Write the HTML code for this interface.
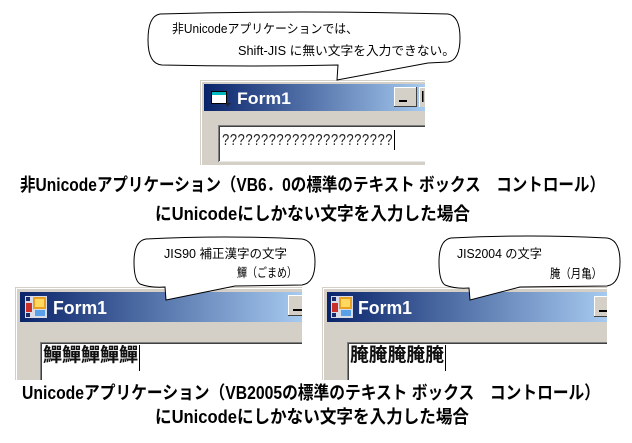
<!DOCTYPE html>
<html>
<head>
<meta charset="utf-8">
<style>
html,body{margin:0;padding:0;background:#fff;}
svg{display:block;}
.jp{font-family:"Liberation Sans","Noto Sans CJK JP",sans-serif;}
</style>
</head>
<body>
<svg width="632" height="443" viewBox="0 0 632 443" xmlns="http://www.w3.org/2000/svg">
<defs>
<linearGradient id="tb" x1="0" y1="0" x2="1" y2="0">
<stop offset="0" stop-color="#0a246a"/>
<stop offset="1" stop-color="#a6caf0"/>
</linearGradient>
</defs>
<rect x="0" y="0" width="632" height="443" fill="#fff"/>

<!-- ===== Top screenshot ===== -->
<rect x="200" y="80" width="225" height="85" fill="#d4d0c8"/>
<line x1="201.5" y1="81" x2="201.5" y2="165" stroke="#fff"/>
<line x1="201" y1="81.5" x2="425" y2="81.5" stroke="#fff"/>
<rect x="204" y="84" width="221" height="27" fill="url(#tb)"/>
<!-- icon -->
<rect x="211.5" y="91.5" width="15" height="12" fill="#fff" stroke="#000"/>
<rect x="212" y="92" width="14" height="3" fill="#00b8c0"/>
<polygon points="226,103 231,103 227,107" fill="#222"/>
<text x="237" y="104" font-family="Liberation Sans, sans-serif" font-weight="bold" font-size="17" fill="#fff" textLength="54" lengthAdjust="spacingAndGlyphs">Form1</text>
<!-- buttons -->
<rect x="394" y="87" width="23" height="20" fill="#d4d0c8"/>
<line x1="394.5" y1="87" x2="394.5" y2="107" stroke="#fff"/>
<line x1="394" y1="87.5" x2="417" y2="87.5" stroke="#fff"/>
<line x1="416.5" y1="87" x2="416.5" y2="107" stroke="#404040"/>
<line x1="394" y1="106.5" x2="417" y2="106.5" stroke="#404040"/>
<rect x="399" y="100" width="8" height="2" fill="#000"/>
<rect x="419" y="87" width="6" height="20" fill="#d4d0c8"/>
<line x1="419.5" y1="87" x2="419.5" y2="107" stroke="#fff"/>
<line x1="419" y1="87.5" x2="425" y2="87.5" stroke="#fff"/>
<rect x="422" y="91" width="1.5" height="11" fill="#000"/>
<!-- textbox -->
<rect x="218" y="125" width="207" height="37" fill="#fff"/>
<line x1="218" y1="125.5" x2="425" y2="125.5" stroke="#808080"/>
<line x1="219" y1="126.5" x2="425" y2="126.5" stroke="#404040"/>
<line x1="218.5" y1="125" x2="218.5" y2="162" stroke="#808080"/>
<line x1="219.5" y1="126" x2="219.5" y2="161" stroke="#404040"/>
<line x1="219" y1="161.5" x2="425" y2="161.5" stroke="#e8e8e8"/>
<text x="222" y="145" font-family="Liberation Mono, monospace" font-size="17" fill="#222" textLength="171" lengthAdjust="spacingAndGlyphs">??????????????????????</text>
<line x1="394.5" y1="130" x2="394.5" y2="150" stroke="#000"/>

<!-- ===== Bottom-left screenshot ===== -->
<rect x="15" y="287" width="287" height="93" fill="#d4d0c8"/>
<line x1="16.5" y1="288" x2="16.5" y2="380" stroke="#fff"/>
<line x1="16" y1="288.5" x2="302" y2="288.5" stroke="#fff"/>
<rect x="20" y="292" width="282" height="30" fill="url(#tb)"/>
<rect x="25" y="296" width="22" height="22" fill="#d8dce8"/>
<rect x="26" y="297" width="4" height="4" fill="#1a2a6a"/>
<rect x="31" y="297" width="0" height="4" fill="#1a2a6a"/>
<rect x="26" y="303" width="6" height="9" fill="#c8302a"/>
<rect x="33" y="297" width="13" height="12" fill="#e8a020"/>
<rect x="35" y="299" width="9" height="8" fill="#ffd860"/>
<rect x="35" y="310" width="10" height="6" fill="#5aa0e8"/>
<rect x="26" y="313" width="4" height="4" fill="#1a2a6a"/>
<text x="53" y="314" font-family="Liberation Sans, sans-serif" font-weight="bold" font-size="18" fill="#fff" textLength="54" lengthAdjust="spacingAndGlyphs">Form1</text>
<rect x="288" y="295" width="14" height="21" fill="#d4d0c8"/>
<line x1="288.5" y1="295" x2="288.5" y2="316" stroke="#fff"/>
<line x1="288" y1="295.5" x2="302" y2="295.5" stroke="#fff"/>
<line x1="288" y1="315.5" x2="302" y2="315.5" stroke="#404040"/>
<rect x="293" y="309" width="9" height="2" fill="#000"/>
<rect x="40" y="342" width="262" height="38" fill="#fff"/>
<line x1="40" y1="342.5" x2="302" y2="342.5" stroke="#808080"/>
<line x1="41" y1="343.5" x2="302" y2="343.5" stroke="#404040"/>
<line x1="40.5" y1="342" x2="40.5" y2="380" stroke="#808080"/>
<line x1="41.5" y1="343" x2="41.5" y2="380" stroke="#404040"/>
<text x="43" y="361" class="jp" font-weight="bold" font-size="19" fill="#111" textLength="95" lengthAdjust="spacingAndGlyphs">鱓鱓鱓鱓鱓</text>
<line x1="139.5" y1="345" x2="139.5" y2="371" stroke="#000"/>

<!-- ===== Bottom-right screenshot ===== -->
<rect x="322" y="287" width="285" height="93" fill="#d4d0c8"/>
<line x1="323.5" y1="288" x2="323.5" y2="380" stroke="#fff"/>
<line x1="323" y1="288.5" x2="607" y2="288.5" stroke="#fff"/>
<rect x="327" y="292" width="280" height="30" fill="url(#tb)"/>
<rect x="331" y="296" width="22" height="22" fill="#d8dce8"/>
<rect x="332" y="297" width="4" height="4" fill="#1a2a6a"/>
<rect x="332" y="303" width="6" height="9" fill="#c8302a"/>
<rect x="339" y="297" width="13" height="12" fill="#e8a020"/>
<rect x="341" y="299" width="9" height="8" fill="#ffd860"/>
<rect x="341" y="310" width="10" height="6" fill="#5aa0e8"/>
<rect x="332" y="313" width="4" height="4" fill="#1a2a6a"/>
<text x="358" y="314" font-family="Liberation Sans, sans-serif" font-weight="bold" font-size="18" fill="#fff" textLength="54" lengthAdjust="spacingAndGlyphs">Form1</text>
<rect x="594" y="296" width="13" height="21" fill="#d4d0c8"/>
<line x1="594.5" y1="296" x2="594.5" y2="317" stroke="#fff"/>
<line x1="594" y1="296.5" x2="607" y2="296.5" stroke="#fff"/>
<line x1="594" y1="316.5" x2="607" y2="316.5" stroke="#404040"/>
<rect x="599" y="310" width="8" height="2" fill="#000"/>
<rect x="347" y="342" width="260" height="38" fill="#fff"/>
<line x1="347" y1="342.5" x2="607" y2="342.5" stroke="#808080"/>
<line x1="348" y1="343.5" x2="607" y2="343.5" stroke="#404040"/>
<line x1="347.5" y1="342" x2="347.5" y2="380" stroke="#808080"/>
<line x1="348.5" y1="343" x2="348.5" y2="380" stroke="#404040"/>
<text x="350" y="361" class="jp" font-weight="bold" font-size="19" fill="#111" textLength="94" lengthAdjust="spacingAndGlyphs">腌腌腌腌腌</text>
<line x1="445.5" y1="345" x2="445.5" y2="371" stroke="#000"/>

<!-- ===== Bubbles ===== -->
<path d="M 160,14 Q 300,10 448,14 Q 460,16 460,38 Q 460,60 448,62 L 428,63 L 337,80 L 338,65 Q 250,67 162,65 Q 148,64 148,40 Q 148,16 160,14 Z" fill="#fff" stroke="#000" stroke-width="1"/>
<path d="M 146,239 Q 225,235 302,239 Q 315,241 315,262 Q 315,283 302,285 L 235,286 L 166,300 L 165,287 Q 150,288 140,284 Q 134,280 134,262 Q 134,241 146,239 Z" fill="#fff" stroke="#000" stroke-width="1"/>
<path d="M 451,238 Q 530,234 607,238 Q 620,240 620,262 Q 620,284 607,286 L 520,287 L 470,300 L 469,288 Q 455,289 445,285 Q 439,281 439,262 Q 439,240 451,238 Z" fill="#fff" stroke="#000" stroke-width="1"/>

<!-- bubble texts -->
<text x="172" y="33" class="jp" font-size="12.5" fill="#000" textLength="186" lengthAdjust="spacingAndGlyphs">非Unicodeアプリケーションでは、</text>
<text x="238" y="55" class="jp" font-size="12.5" fill="#000" textLength="217" lengthAdjust="spacingAndGlyphs">Shift-JIS に無い文字を入力できない。</text>
<text x="164" y="258" class="jp" font-size="12.5" fill="#000" textLength="123" lengthAdjust="spacingAndGlyphs">JIS90 補正漢字の文字</text>
<text x="237" y="277" class="jp" font-size="12.5" fill="#000" textLength="60" lengthAdjust="spacingAndGlyphs">鱓（ごまめ）</text>
<text x="457" y="258" class="jp" font-size="12.5" fill="#000" textLength="85" lengthAdjust="spacingAndGlyphs">JIS2004 の文字</text>
<text x="550" y="278" class="jp" font-size="12.5" fill="#000" textLength="52" lengthAdjust="spacingAndGlyphs">腌（月亀）</text>

<!-- captions -->
<text x="20" y="191" class="jp" font-weight="bold" font-size="18" fill="#000" textLength="585" lengthAdjust="spacingAndGlyphs">非Unicodeアプリケーション（VB6．0の標準のテキスト ボックス　コントロール）</text>
<text x="155" y="220" class="jp" font-weight="bold" font-size="18" fill="#000" textLength="315" lengthAdjust="spacingAndGlyphs">にUnicodeにしかない文字を入力した場合</text>
<text x="22" y="399" class="jp" font-weight="bold" font-size="18" fill="#000" textLength="578" lengthAdjust="spacingAndGlyphs">Unicodeアプリケーション（VB2005の標準のテキスト ボックス　コントロール）</text>
<text x="155" y="423" class="jp" font-weight="bold" font-size="18" fill="#000" textLength="314" lengthAdjust="spacingAndGlyphs">にUnicodeにしかない文字を入力した場合</text>
</svg>
</body>
</html>
